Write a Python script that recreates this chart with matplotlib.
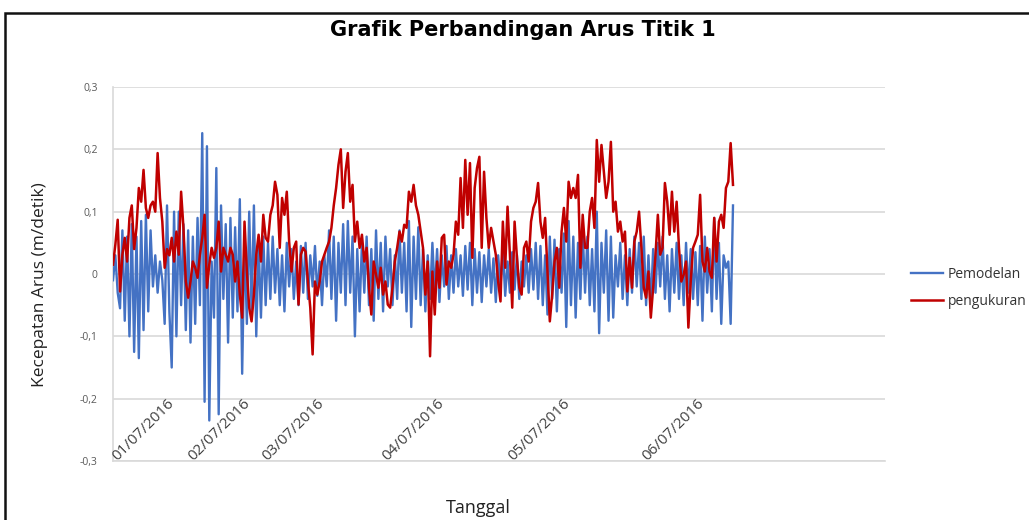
import matplotlib
matplotlib.use("Agg")
import matplotlib.pyplot as plt
from matplotlib.patches import Rectangle
import numpy as np

title = "Grafik Perbandingan Arus Titik 1"
y_label = "Kecepatan Arus (m/detik)"
x_label = "Tanggal"
series_names = ["Pemodelan", "pengukuran"]

date_labels = ["01/07/2016", "02/07/2016", "03/07/2016", "04/07/2016", "05/07/2016", "06/07/2016"]
date_label_index = [1.6, 34.2, 65.5, 116.6, 170.4, 227.3]

y_ticks = [-0.3, -0.2, -0.1, 0.0, 0.1, 0.2, 0.3]
y_tick_labels = ["-0,3", "-0,2", "-0,1", "0", "0,1", "0,2", "0,3"]

pemodelan = [
    -0.01, 0.03, -0.03, -0.055, 0.07, -0.075, 0.06, -0.1, 0.08, -0.125,
    0.06, -0.135, 0.085, -0.09, 0.095, -0.06, 0.07, -0.02, 0.03, -0.03,
    0.02, -0.01, -0.08, 0.11, -0.06, -0.15, 0.1, -0.1, 0.1, -0.05,
    0.08, -0.09, 0.07, -0.11, 0.06, -0.08, 0.09, -0.05, 0.226, -0.205,
    0.205, -0.235, 0.02, -0.07, 0.17, -0.225, 0.11, -0.04, 0.08, -0.11,
    0.09, -0.07, 0.075, -0.06, 0.12, -0.16, 0.06, -0.08, 0.1, -0.06,
    0.11, -0.1, 0.05, -0.07, 0.06, -0.05,
    0.05, -0.04, 0.06, -0.03, 0.04, -0.05, 0.03, -0.06, 0.05, -0.02,
    0.04, -0.04, 0.02, -0.05, 0.045, -0.03, 0.05, -0.04, 0.03, -0.02,
    0.045, -0.035, 0.02, -0.05, 0.03, -0.02, 0.07, -0.04, 0.06, -0.075,
    0.05, -0.03, 0.08, -0.05, 0.085, -0.03, 0.06, -0.1, 0.04, -0.06,
    0.05, -0.03, 0.06, -0.05, 0.04, -0.075, 0.07, -0.04, 0.05, -0.06,
    0.06, -0.02, 0.04, -0.05, 0.03, -0.04, 0.07, -0.03, 0.05, -0.06,
    0.085, -0.085, 0.06, -0.04, 0.075, -0.05, 0.04, -0.06, 0.03,
    -0.04, 0.05, -0.03, 0.04, -0.045, 0.03, -0.02, 0.045, -0.04, 0.03,
    -0.03, 0.04, -0.02, 0.03, -0.035, 0.045, -0.025, 0.05, -0.05, 0.04,
    -0.03, 0.035, -0.045, 0.03, -0.02, 0.04, -0.03, 0.025, -0.045, 0.03,
    -0.02, 0.04, -0.035, 0.02, -0.03, 0.035, -0.025, 0.03, -0.04, 0.02,
    -0.02, 0.03, -0.03, 0.04, -0.025, 0.05, -0.04, 0.045, -0.05, 0.03,
    -0.065, 0.06, -0.04, 0.055, -0.06, 0.04, -0.03, 0.065, -0.085, 0.085,
    -0.05, 0.06, -0.07, 0.05, -0.04, 0.07,
    -0.03, 0.06, -0.05, 0.04, -0.06, 0.1, -0.095, 0.05, -0.03, 0.07,
    -0.075, 0.06, -0.07, 0.03, -0.02, 0.05, -0.04, 0.03, -0.05, 0.04,
    -0.03, 0.06, -0.02, 0.05, -0.04, 0.06, -0.05, 0.03, -0.05, 0.04,
    -0.03, 0.05, -0.02, 0.06, -0.04, 0.03, -0.06, 0.04, -0.03, 0.05,
    -0.04, 0.03, -0.05, 0.05, -0.03, 0.04, -0.04, 0.035, -0.05, 0.045,
    -0.075, 0.06, -0.03, 0.04, -0.06, 0.09, -0.04, 0.05, -0.08, 0.03,
    0.01, 0.02, -0.08, 0.11,
]

pengukuran = [
    0.015, 0.047, 0.087, -0.028, 0.031, 0.058, 0.02, 0.09, 0.11, 0.04,
    0.074, 0.138, 0.116, 0.167, 0.106, 0.09, 0.11, 0.116, 0.1, 0.194,
    0.122, 0.084, 0.01, 0.04, 0.03, 0.058, 0.02, 0.068, 0.031, 0.132,
    0.074, -0.012, -0.038, -0.012, 0.02, 0.01, -0.006, 0.031, 0.058, 0.095,
    -0.022, 0.015, 0.042, 0.026, 0.042, 0.084, 0.004, 0.042, 0.031, 0.02,
    0.042, 0.031, -0.012, 0.02, -0.033, -0.07, 0.084, 0.004, -0.054, -0.076,
    -0.033, 0.031, 0.063, 0.02, 0.095, 0.058,
    0.052, 0.095, 0.11, 0.148, 0.127, 0.042, 0.122, 0.095, 0.132, 0.052,
    0.004, 0.042, 0.052, -0.049, 0.031, 0.042, 0.036, -0.012, -0.054, -0.129,
    -0.012, -0.033, -0.012, 0.02, 0.031, 0.042, 0.052, 0.074, 0.11, 0.138,
    0.175, 0.2, 0.106, 0.164, 0.194, 0.116, 0.143, 0.052, 0.084, 0.042,
    0.063, 0.02, 0.042, -0.022, -0.065, 0.02, -0.001, -0.022, 0.01, -0.033,
    -0.012, -0.049, -0.054, -0.022, 0.02, 0.042, 0.068, 0.052, 0.079, 0.074,
    0.132, 0.116, 0.143, 0.11, 0.095, 0.068, 0.042, -0.033, 0.02,
    -0.132, 0.004, -0.065, 0.02, -0.022, 0.058, 0.063, -0.017, 0.02, 0.01,
    0.031, 0.084, 0.063, 0.154, 0.074, 0.183, 0.095, 0.178, 0.026, 0.138,
    0.17, 0.188, 0.042, 0.164, 0.09, 0.042, 0.074, 0.052, 0.031, -0.012,
    -0.044, 0.084, 0.01, 0.108, 0.031, -0.054, 0.084, 0.026, -0.022, -0.033,
    0.042, 0.052, 0.02, 0.084, 0.106, 0.116, 0.146, 0.084, 0.058, 0.09,
    0.004, -0.076, -0.033, 0.02, 0.042, -0.022, 0.068, 0.106, 0.052, 0.148,
    0.122, 0.138, 0.122, 0.159, 0.01, 0.095,
    0.042, 0.042, 0.1, 0.122, 0.074, 0.215, 0.148, 0.207, 0.164, 0.122,
    0.148, 0.212, 0.1, 0.116, 0.068, 0.084, 0.052, 0.068, -0.028, 0.026,
    -0.022, 0.052, 0.068, 0.1, 0.042, -0.022, -0.038, 0.004, -0.07, -0.022,
    0.031, 0.095, 0.031, 0.042, 0.146, 0.116, 0.063, 0.132, 0.068, 0.116,
    0.042, -0.012, -0.001, 0.02, -0.086, -0.012, 0.042, 0.052, 0.063, 0.127,
    0.02, 0.004, 0.042, 0.004, -0.006, 0.09, 0.02, 0.084, 0.095, 0.074,
    0.138, 0.148, 0.21, 0.143,
]

n = len(pemodelan)
idx = np.arange(n)

plt.rcParams['font.family'] = ['Open Sans', 'DejaVu Sans']

fig = plt.figure(figsize=(10.29, 5.20), dpi=100)
fig.patch.set_facecolor('white')
ax = fig.add_axes([113/1029, 1 - 461/520, (885 - 113)/1029, (461 - 87)/520])

# outer chart frame
fig.patches.append(Rectangle((5/1029, -0.1), 1.2, 0.1 + 1 - 13/520,
                             transform=fig.transFigure, fill=False,
                             edgecolor='#111111', linewidth=1.8, zorder=0))

ax.plot(idx, pemodelan, color='#4472C4', linewidth=1.7, label=series_names[0], zorder=3)
ax.plot(idx, pengukuran, color='#C00000', linewidth=1.8, label=series_names[1], zorder=4)

ax.set_xlim(0, (n - 1) * (885 - 113) / (733 - 113))
ax.set_ylim(-0.3, 0.3)
ax.set_yticks(y_ticks)
ax.set_yticklabels(y_tick_labels)
ax.tick_params(axis='y', length=0, pad=11, labelsize=7.5, labelcolor='#595959')
ax.set_xticks([])
ax.grid(axis='y', color='#d9d9d9', linewidth=1.2)
ax.set_axisbelow(True)
for s in ['top', 'right']:
    ax.spines[s].set_visible(False)
ax.spines['left'].set_color('#d9d9d9')
ax.spines['left'].set_linewidth(1.2)
ax.spines['bottom'].set_color('#d9d9d9')
ax.spines['bottom'].set_linewidth(1.2)

for pos, lab in zip(date_label_index, date_labels):
    ax.text(pos, -0.3, lab, rotation=45, rotation_mode='anchor', ha='left', va='baseline',
            fontsize=11, color='#404040', zorder=5)

fig.text(523/1029, 1 - 30/520, title, ha='center', va='center', fontsize=15,
         fontweight='bold', family='DejaVu Sans', color='#000000')
fig.text(478/1029, 1 - 508/520, x_label, ha='center', va='center', fontsize=13, color='#222222')
fig.text(40/1029, 1 - 285/520, y_label, ha='center', va='center', rotation=90, fontsize=12.5, color='#222222')

leg = ax.legend(loc='upper left', bbox_to_anchor=(905/1029, 1 - 261/520),
                bbox_transform=fig.transFigure, frameon=False, fontsize=10,
                handlelength=2.3, labelspacing=0.9, handletextpad=0.4, borderaxespad=0)
for t in leg.get_texts():
    t.set_color('#333333')

fig.savefig('out.png', dpi=100, facecolor='white')
